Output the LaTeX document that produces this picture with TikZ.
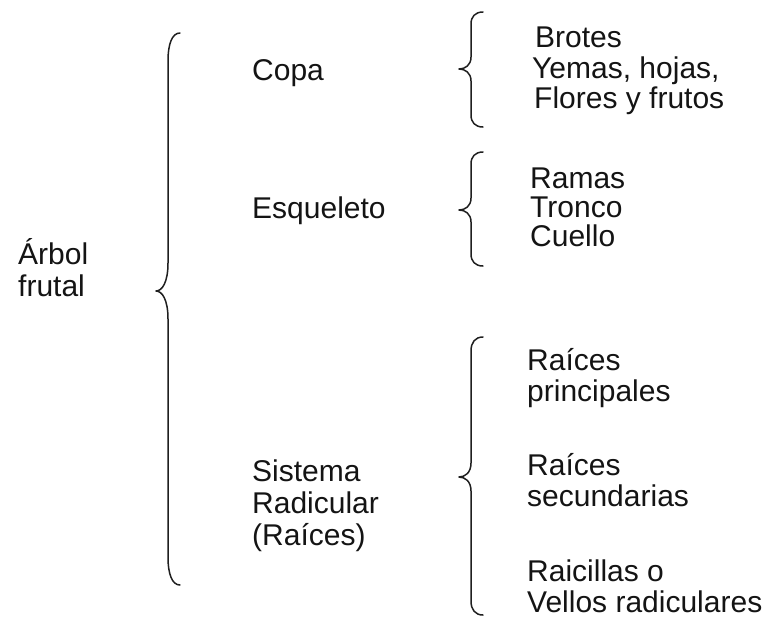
\documentclass[tikz,border=0pt]{standalone}
\usepackage{fontspec}
\setmainfont{Liberation Sans}
\usepackage{tikz}

\tikzset{
  word/.style={anchor=base west, inner sep=0pt, text=black!92,
               font=\fontsize{30}{30}\selectfont},
  curly/.style={line width=1.5pt, draw=black!88, line cap=round, line join=round}
}

\begin{document}
\begin{tikzpicture}[x=1pt, y=-1pt]
\useasboundingbox (0,0) rectangle (776,622);

% braces: right end x / top / tip / bottom / curl
\foreach \xr/\yt/\ym/\yb/\c in {180/33/291/585/28, 483/12/69/127/12,
                                483/152/210/266/12, 483/337/477/615/14}
\draw[curly] (\xr,\yt) .. controls (\xr-8,\yt) and (\xr-12,\yt+0.4*\c) .. (\xr-12,\yt+\c)
  -- (\xr-12,\ym-\c) .. controls (\xr-12,\ym-0.3*\c) and (\xr-18,\ym) .. (\xr-24,\ym)
  .. controls (\xr-18,\ym) and (\xr-12,\ym+0.3*\c) .. (\xr-12,\ym+\c)
  -- (\xr-12,\yb-\c) .. controls (\xr-12,\yb-0.4*\c) and (\xr-8,\yb) .. (\xr,\yb);

% root
\node[word] (arbol) at (18,264) {Árbol};
\node[word] (frutal) at (18,296) {frutal};

% parts
\node[word] (copa) at (252,80) {Copa};
\node[word] (esqueleto) at (252,218) {Esqueleto};
\node[word] (sistema) at (252,481) {Sistema};
\node[word] (radicular) at (252,513) {Radicular};
\node[word] (raices) at (252,545) {(Raíces)};

% copa
\node[word] (brotes) at (535,47) {Brotes};
\node[word] (yemas) at (532,78) {Yemas, hojas,};
\node[word] (flores) at (534,108) {Flores y frutos};

% esqueleto
\node[word] (ramas) at (530,188) {Ramas};
\node[word] (tronco) at (530,217) {Tronco};
\node[word] (cuello) at (530,246) {Cuello};

% raices
\node[word] (rprin) at (527,370) {Raíces};
\node[word] (prin) at (527,401) {principales};
\node[word] (rsec) at (527,475) {Raíces};
\node[word] (sec) at (527,506) {secundarias};
\node[word] (raic) at (527,581) {Raicillas o};
\node[word] (vellos) at (527,612) {Vellos radiculares};
\end{tikzpicture}
\end{document}
